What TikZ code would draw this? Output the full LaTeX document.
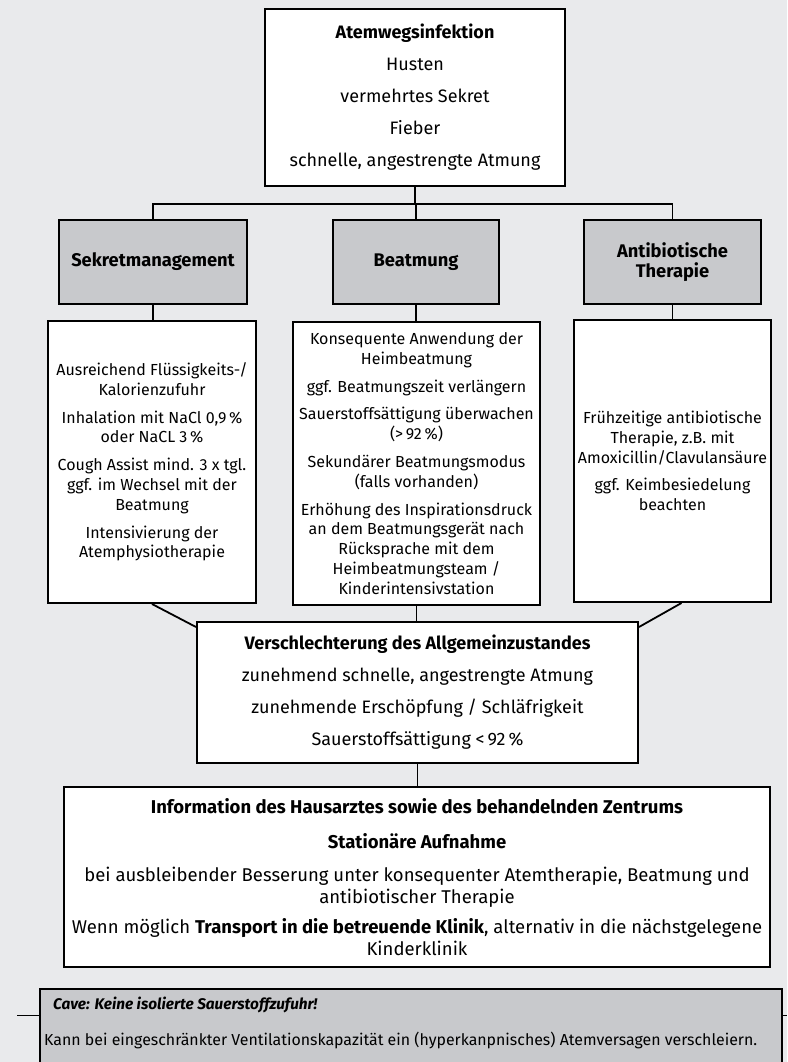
\documentclass[tikz,border=0pt]{standalone}
\usepackage{fontspec}
\setmainfont{Fira Sans}
\definecolor{bg}{RGB}{233,234,236}
\definecolor{hdr}{RGB}{200,201,204}
\begin{document}
\begin{tikzpicture}[x=1pt,y=-1pt,
  bigbox/.style={draw=black, line width=2pt, fill=white, inner sep=0pt, align=center,
    font=\fontsize{18}{20}\selectfont},
  colbox/.style={draw=black, line width=2pt, fill=white, inner sep=0pt, align=center,
    font=\fontsize{16}{19.8}\selectfont},
  hdrbox/.style={draw=black, line width=2pt, fill=hdr, inner sep=0pt, align=center,
    font=\fontsize{18.3}{20.5}\selectfont\bfseries},
  conn/.style={line width=1.8pt},
  cavetext/.style={anchor=west, inner sep=0pt, font=\fontsize{15.9}{16}\selectfont}
]
\useasboundingbox (0,0) rectangle (787,1062);
\fill[bg] (0,0) rectangle (787,1062);

\node[bigbox, minimum width=300, minimum height=177] (top) at (415,97.5)
  {\textbf{Atemwegsinfektion}\\[12pt] Husten\\[12pt] vermehrtes Sekret\\[12pt] Fieber\\[12pt] schnelle, angestrengte Atmung};

\node[hdrbox, minimum width=188, minimum height=84] (S) at (153,262) {Sekretmanagement};
\node[hdrbox, minimum width=166, minimum height=84] (B) at (416,262) {Beatmung};
\node[hdrbox, minimum width=177, minimum height=84] (A) at (672.5,262) {Antibiotische\\Therapie};

\node[colbox, minimum width=208, minimum height=282] (L) at (152,462)
  {Ausreichend Flüssigkeits-/\\Kalorienzufuhr\\[8pt]
   Inhalation mit NaCl 0,9\,\%\\oder NaCL 3\,\%\\[8pt]
   Cough Assist mind. 3 x tgl.\\ggf. im Wechsel mit der\\Beatmung\\[8pt]
   Intensivierung der\\Atemphysiotherapie};
\node[colbox, minimum width=247, minimum height=283] (M) at (416.5,463.5)
  {Konsequente Anwendung der\\Heimbeatmung\\[8pt]
   ggf. Beatmungszeit verlängern\\[8pt]
   Sauerstoffsättigung überwachen\\(>\,92\,\%)\\[8pt]
   Sekundärer Beatmungsmodus\\(falls vorhanden)\\[8pt]
   Erhöhung des Inspirationsdruck\\an dem Beatmungsgerät nach\\Rücksprache mit dem\\Heimbeatmungsteam /\\Kinderintensivstation};
\node[colbox, minimum width=197, minimum height=282] (R) at (672.5,461)
  {Frühzeitige antibiotische\\Therapie, z.B. mit\\Amoxicillin/Clavulansäure\\[8pt]
   ggf. Keimbesiedelung\\beachten};

\node[bigbox, minimum width=441, minimum height=141] (V) at (417.5,692.5)
  {\textbf{Verschlechterung des Allgemeinzustandes}\\[12pt]
   zunehmend schnelle, angestrengte Atmung\\[12pt]
   zunehmende Erschöpfung / Schläfrigkeit\\[12pt]
   Sauerstoffsättigung <\,92\,\%};

\node[bigbox, minimum width=706, minimum height=180, font=\fontsize{18.5}{22}\selectfont] (F) at (417,877)
  {\textbf{Information des Hausarztes sowie des behandelnden Zentrums}\\[13pt]
   \textbf{Stationäre Aufnahme}\\[11pt]
   bei ausbleibender Besserung unter konsequenter Atemtherapie, Beatmung und\\
   antibiotischer Therapie\\[8pt]
   Wenn möglich \textbf{Transport in die betreuende Klinik}, alternativ in die nächstgelegene\\
   Kinderklinik};

% connectors
\coordinate (j) at (415,204);
\draw[conn] (top.south) -- (j);
\draw[conn] (S.north) |- (j);
\draw[conn] (A.north) |- (j);
\draw[conn] (B.north) -- (B.north |- j);
\draw[conn] (S.south) -- (S.south |- L.north);
\draw[conn] (B.south) -- (B.south |- M.north);
\draw[conn] (A.south) -- (A.south |- R.north);
\draw[conn] (L.south) -- ([yshift=-6pt]V.north west);
\draw[conn] ([xshift=9pt]R.south) -- ([yshift=-6pt]V.north east);
\draw[conn] (M.south) -- (M.south |- V.north);
\draw[conn] (V.south) -- (V.south |- F.north);

% cave box
\draw[line width=1.4pt, fill=hdr] (40,1075) -- (40,989) -- (782,989) -- (782,1075);
\draw[line width=1pt] (17,1015) -- (40,1015);
\draw[line width=1pt] (782,1015) -- (787,1015);
\node[cavetext, font=\fontsize{15.4}{16}\selectfont\bfseries\itshape] (c1) at (53,1005)
  {Cave: Keine isolierte Sauerstoffzufuhr!};
\node[cavetext] (c2) at (44,1040)
  {Kann bei eingeschränkter Ventilationskapazität ein (hyperkanpnisches) Atemversagen verschleiern.};
\end{tikzpicture}
\end{document}
